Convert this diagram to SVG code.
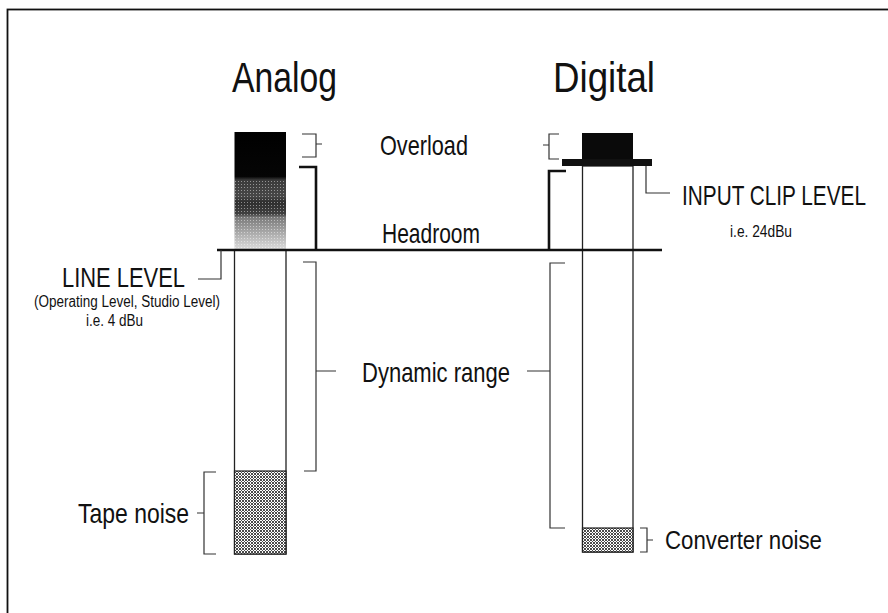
<svg xmlns="http://www.w3.org/2000/svg" width="888" height="613" viewBox="0 0 888 613">
  <style>
    .t { font-family: "Liberation Sans Narrow", "Liberation Sans", Arial, sans-serif; fill: #111; }
    .big { font-size: 42px; }
    .lbl { font-size: 28px; }
    .sm { font-size: 16px; }
    .thin { fill: none; stroke: #333; stroke-width: 1.2; }
    .thick { fill: none; stroke: #111; stroke-width: 2.6; }
    .col { fill: #fff; stroke: #222; stroke-width: 1.3; }
  </style>
  <defs>
    <!-- fine screen used for noise floors -->
    <pattern id="noise" width="3" height="3" patternUnits="userSpaceOnUse">
      <rect width="3" height="3" fill="#fff"/>
      <path d="M0 0h1v1H0zM2 0h1v1H2zM1 1h1v1H1zM0 2h1v1H0zM2 2h1v1H2z" fill="#4a4a4a"/>
    </pattern>
    <!-- headroom shading: solid black fading to light halftone -->
    <linearGradient id="shade" x1="0" y1="132" x2="0" y2="249" gradientUnits="userSpaceOnUse">
      <stop offset="0" stop-color="#000"/>
      <stop offset="0.38" stop-color="#050505"/>
      <stop offset="0.41" stop-color="#3a3a3a"/>
      <stop offset="0.55" stop-color="#484848"/>
      <stop offset="0.6" stop-color="#2e2e2e"/>
      <stop offset="0.7" stop-color="#404040"/>
      <stop offset="0.73" stop-color="#7a7a7a"/>
      <stop offset="1" stop-color="#dcdcdc"/>
    </linearGradient>
    <pattern id="dots" width="3" height="3" patternUnits="userSpaceOnUse">
      <rect x="1" y="1" width="1" height="1" fill="#fff"/>
    </pattern>
  </defs>

  <rect width="888" height="613" fill="#fff"/>
  <!-- outer frame -->
  <rect x="7.5" y="9.5" width="900" height="700" fill="none" stroke="#111" stroke-width="1.8"/>

  <!-- column titles -->
  <g id="title-analog"><text class="t big" x="232" y="92" textLength="105" lengthAdjust="spacingAndGlyphs">Analog</text></g>
  <g id="title-digital"><text class="t big" x="553" y="92" textLength="102" lengthAdjust="spacingAndGlyphs">Digital</text></g>

  <!-- analog level column -->
  <g id="analog-column">
    <rect class="col" x="234.5" y="250" width="51.5" height="304"/>
    <rect x="234.5" y="132" width="51.5" height="118" fill="url(#shade)"/>
    <rect x="234.5" y="180" width="51.5" height="69" fill="url(#dots)" opacity="0.45"/>
    <rect x="234.5" y="471" width="51.5" height="83" fill="url(#noise)" stroke="#222" stroke-width="1.2"/>
  </g>

  <!-- digital level column -->
  <g id="digital-column">
    <rect class="col" x="582.5" y="166" width="50.5" height="386"/>
    <rect x="582" y="133" width="51" height="27" fill="#0a0a0a"/>
    <rect x="562" y="159" width="90" height="7" fill="#111"/>
    <rect x="582.5" y="528" width="50.5" height="24" fill="url(#noise)" stroke="#222" stroke-width="1.2"/>
  </g>

  <!-- reference level line -->
  <g id="line-level-rule">
    <line x1="217" y1="250" x2="662" y2="250" stroke="#111" stroke-width="2.6"/>
  </g>

  <!-- labels -->
  <g id="label-overload"><text class="t lbl" x="380" y="155" textLength="88" lengthAdjust="spacingAndGlyphs">Overload</text></g>
  <g id="label-headroom"><text class="t lbl" x="382" y="243" textLength="98" lengthAdjust="spacingAndGlyphs">Headroom</text></g>
  <g id="label-input-clip">
    <text class="t lbl" x="682" y="205" textLength="184" lengthAdjust="spacingAndGlyphs">INPUT CLIP LEVEL</text>
    <text class="t sm" x="730" y="237" textLength="62" lengthAdjust="spacingAndGlyphs">i.e. 24dBu</text>
  </g>
  <g id="label-line-level">
    <text class="t lbl" x="62" y="287" textLength="123" lengthAdjust="spacingAndGlyphs">LINE LEVEL</text>
    <text class="t sm" x="34" y="307" textLength="186" lengthAdjust="spacingAndGlyphs">(Operating Level, Studio Level)</text>
    <text class="t sm" x="86" y="326" textLength="57" lengthAdjust="spacingAndGlyphs">i.e. 4 dBu</text>
  </g>
  <g id="label-dynamic-range"><text class="t lbl" x="362" y="382" textLength="148" lengthAdjust="spacingAndGlyphs">Dynamic range</text></g>
  <g id="label-tape-noise"><text class="t lbl" x="78" y="523" textLength="111" lengthAdjust="spacingAndGlyphs">Tape noise</text></g>
  <g id="label-converter-noise"><text class="t" style="font-size:26px" x="665" y="549" textLength="157" lengthAdjust="spacingAndGlyphs">Converter noise</text></g>

  <!-- brackets and leader lines -->
  <g id="connectors">
    <!-- analog overload -->
    <path class="thin" d="M302 134H316V157H302M316 144H322"/>
    <!-- analog headroom -->
    <path class="thick" d="M299 167H316V250"/>
    <!-- analog dynamic range -->
    <path class="thin" d="M303 262H316V471H304M316 371H336"/>
    <!-- tape noise -->
    <path class="thin" d="M216 472H204V554H216M204 513H197"/>
    <!-- line level leader -->
    <path class="thin" d="M221 250V279H198"/>
    <!-- digital overload -->
    <path class="thin" d="M559 134H549V159H559M549 145H543"/>
    <!-- digital headroom -->
    <path class="thick" d="M566 171H549V250"/>
    <!-- digital dynamic range -->
    <path class="thin" d="M565 263H550V528H565M550 371H527"/>
    <!-- input clip leader -->
    <path class="thin" d="M646 166V193H670"/>
    <!-- converter noise -->
    <path class="thin" d="M640 528H647V552H640M647 540H653"/>
  </g>
</svg>
